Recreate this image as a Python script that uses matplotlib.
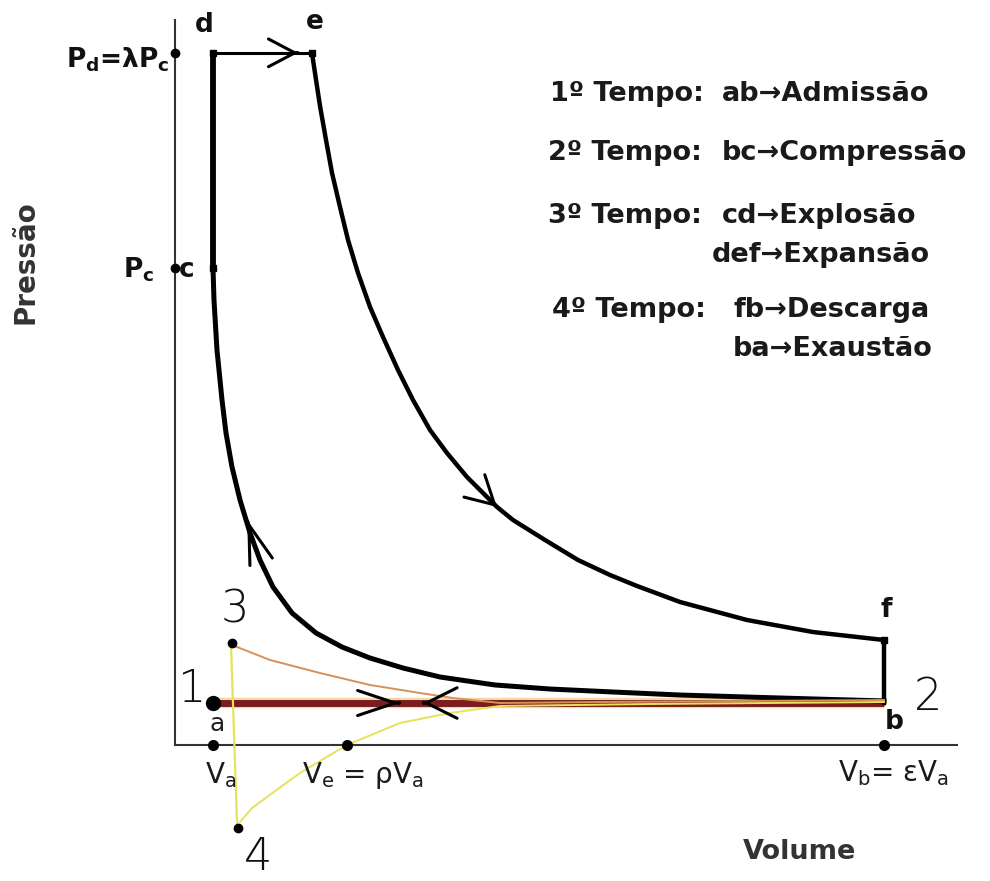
import matplotlib
matplotlib.use("Agg")
import matplotlib.pyplot as plt

plt.rcParams['font.family'] = ['DejaVu Sans']
plt.rcParams['mathtext.fontset'] = 'custom'
plt.rcParams['mathtext.rm'] = 'DejaVu Sans'
plt.rcParams['mathtext.bf'] = 'DejaVu Sans:bold'
plt.rcParams['mathtext.it'] = 'DejaVu Sans:italic'

# ---------------- data (V in units of V_a, p in units of p_b) ----------------
V_a = 1.0
V_e = 3.605         # end of constant-pressure stroke d-e
V_e_axis = 4.53     # axis mark labelled V_e = rho V_a
V_b = 18.66
p_b = 1.0
p_c = 11.36
p_d = 16.48
p_f = 2.50

# compression c -> b
comp_V = [1.000, 1.026, 1.105, 1.237, 1.342, 1.500, 1.711, 1.974, 2.237, 2.579, 3.079,
          3.711, 4.395, 5.132, 6.000, 6.974, 8.421, 9.868, 11.526, 13.289, 15.921, 18.658]
comp_p = [11.357, 10.595, 9.405, 8.214, 7.429, 6.619, 5.833, 5.048, 4.405, 3.762, 3.143,
          2.667, 2.333, 2.071, 1.833, 1.619, 1.429, 1.333, 1.262, 1.190, 1.119, 1.048]

# expansion e -> f
exp_V = [3.605, 3.684, 3.816, 3.974, 4.132, 4.342, 4.553, 4.816, 5.132, 5.474, 5.868,
         6.263, 6.711, 7.158, 7.684, 8.474, 8.895, 9.737, 10.605, 11.447, 12.158, 13.289,
         15.053, 16.789, 18.658]
exp_p = [16.476, 16.000, 15.214, 14.405, 13.619, 12.810, 12.024, 11.238, 10.429, 9.714, 8.929,
         8.214, 7.500, 6.952, 6.381, 5.667, 5.357, 4.881, 4.405, 4.048, 3.786, 3.405,
         2.976, 2.690, 2.500]

# hand-drawn overlay: 3 -> b (orange), 4 -> b (yellow), 3 -> 4 (yellow)
orange_V = [1.500, 2.500, 3.816, 5.132, 6.447, 7.316, 8.553, 11.184, 18.658]
orange_p = [2.381, 2.024, 1.714, 1.429, 1.238, 1.119, 1.000, 1.024, 1.071]
yellow_V = [1.711, 2.026, 2.421, 3.289, 4.526, 5.921, 7.237, 8.553, 12.500, 18.658]
yellow_p = [-1.833, -1.500, -1.238, -0.667, 0.000, 0.524, 0.762, 0.929, 0.976, 1.024]
line34_V = [1.474, 1.632]
line34_p = [2.381, -1.857]
pt3 = (1.50, 2.43)
pt4 = (1.66, -1.98)

axis_top = 17.26
axis_right = 20.58

# ---------------- figure ----------------
W, H = 990, 881
fig = plt.figure(figsize=(W / 100, H / 100), dpi=100)
ax = fig.add_axes([0, 0, 1, 1])
ax.set_xlim(-175 / 38, 815 / 38)
ax.set_ylim(-136 / 42, 745 / 42)
ax.axis('off')


def ftxt(x, y, s, **kw):
    fig.text(x / W, 1 - y / H, s, **kw)


# axes
ax.plot([0, 0], [0, axis_top], color='#333333', lw=1.5, zorder=1)
ax.plot([0, axis_right], [0, 0], color='#333333', lw=1.5, zorder=1)

# red intake line a-b
ax.plot([V_a, V_b], [p_b, p_b], color='#f3d9a0', lw=7.5, zorder=2, solid_capstyle='butt')
ax.plot([V_a, V_b], [p_b, p_b], color='#7a1c20', lw=5, zorder=2, solid_capstyle='butt')

# main cycle
ax.plot([V_a, V_a], [p_c, p_d], color='k', lw=4.2, zorder=3, solid_capstyle='projecting')
ax.plot([V_a, V_e], [p_d, p_d], color='k', lw=2.2, zorder=3)
ax.plot(exp_V, exp_p, color='k', lw=3.2, zorder=3, solid_joinstyle='round')
ax.plot([V_b, V_b], [p_f, p_b], color='k', lw=3.2, zorder=3)
ax.plot(comp_V, comp_p, color='k', lw=3.6, zorder=3, solid_joinstyle='round')

# hand-drawn overlay
ax.plot(orange_V, orange_p, color='#d8905a', lw=1.4, zorder=4)
ax.plot(yellow_V, yellow_p, color='#e6e25a', lw=1.4, zorder=4)
ax.plot(line34_V, line34_p, color='#e6e25a', lw=1.6, zorder=4)

# points
ax.plot([0, 0], [p_d, p_c], 'o', color='k', ms=6, zorder=5)
ax.plot([V_a, V_e, V_a, V_b], [p_d, p_d, p_c, p_f], 's', color='k', ms=4, zorder=5)
ax.plot([V_a, V_e_axis, V_b], [0, 0, 0], 'o', color='k', ms=7, zorder=5)
ax.plot([V_a], [p_b], 'o', color='k', ms=10, zorder=5)
ax.plot([pt3[0], pt4[0]], [pt3[1], pt4[1]], 'o', color='k', ms=6, zorder=5)


def chevron(tip, d, hl, hw, lw=2.2):
    eps = 0.02
    ax.annotate('', xy=tip, xytext=(tip[0] - eps * d[0], tip[1] - eps * d[1]),
                arrowprops=dict(arrowstyle=f'->,head_length={hl},head_width={hw}',
                                lw=lw, color='k', shrinkA=0, shrinkB=0,
                                mutation_scale=10),
                zorder=6)


chevron((3.24, p_d), (1, 0), 1.9, 1.0)
chevron((8.474, 5.667), (1.21, -1.02), 2.0, 1.1)
chevron((1.90, 5.36), (-0.526, 1.43), 2.8, 0.85)
chevron((5.92, p_b), (1, 0), 2.7, 0.9)
chevron((6.53, p_b), (-1, 0), 2.2, 1.1)

# ---------------- text ----------------
bold = dict(fontweight='bold', color='#111111')
ftxt(204, 25, 'd', fontsize=19, ha='center', va='center', **bold)
ftxt(315, 22, 'e', fontsize=19, ha='center', va='center', **bold)
ftxt(187, 270, 'c', fontsize=19, ha='center', va='center', **bold)
ftxt(886, 610, 'f', fontsize=19, ha='center', va='center', **bold)
ftxt(894, 722, 'b', fontsize=19, ha='center', va='center', **bold)
ftxt(217, 724, 'a', fontsize=18, ha='center', va='center', color='#222222')

ftxt(170, 67, r'$\mathbf{P_d}$=λ$\mathbf{P_c}$', fontsize=19, ha='right', va='baseline', **bold)
ftxt(154, 277, r'$\mathbf{P_c}$', fontsize=19, ha='right', va='baseline', **bold)

reg = dict(color='#1a1a1a', fontsize=20)
ftxt(205, 783, r'$\mathrm{V_a}$', ha='left', va='baseline', **reg)
ftxt(302, 783, r'$\mathrm{V_e}$ = ρ$\mathrm{V_a}$', ha='left', va='baseline', **reg)
ftxt(838, 781, r'$\mathrm{V_b}$= ε$\mathrm{V_a}$', ha='left', va='baseline', **reg)

ftxt(800, 852, 'Volume', fontsize=19.5, ha='center', va='center', fontweight='bold', color='#333333')
ftxt(25, 262, 'Pressão', fontsize=20, ha='center', va='center', rotation=90,
     fontweight='bold', color='#333333')

leg = dict(fontsize=19.5, fontweight='bold', color='#1a1a1a', va='baseline', ha='left')
ftxt(550, 101, '1º Tempo:', **leg)
ftxt(722, 101, 'ab→Admissão', **leg)
ftxt(548, 160, '2º Tempo:', **leg)
ftxt(722, 160, 'bc→Compressão', **leg)
ftxt(548, 223, '3º Tempo:', **leg)
ftxt(722, 223, 'cd→Explosão', **leg)
ftxt(712, 262, 'def→Expansão', **leg)
ftxt(552, 317, '4º Tempo:', **leg)
ftxt(733, 317, 'fb→Descarga', **leg)
ftxt(733, 356, 'ba→Exaustão', **leg)

hand = dict(fontsize=32, fontweight='light', color='#111111', ha='center', va='center')
ftxt(191, 690, '1', **hand)
ftxt(928, 698, '2', **hand)
ftxt(235, 610, '3', **hand)
ftxt(258, 857, '4', **hand)

fig.savefig('out.png', dpi=100)
